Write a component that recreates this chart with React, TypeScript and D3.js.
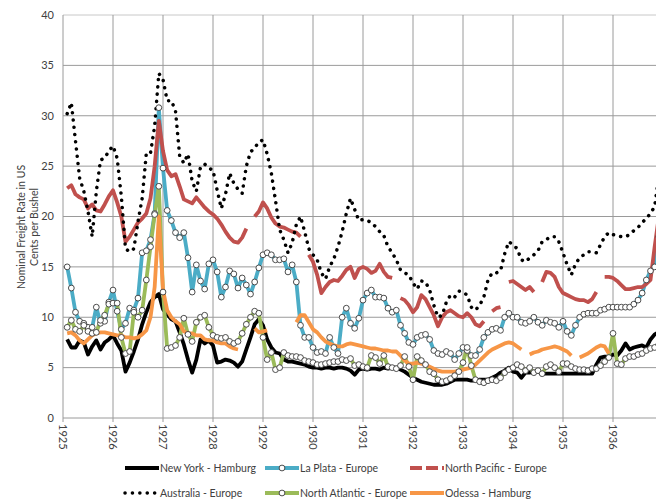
import React from 'react';
import * as d3 from 'd3';

// month index 0 = Jan 1925
const years = [1925, 1926, 1927, 1928, 1929, 1930, 1931, 1932, 1933, 1934, 1935, 1936];
const yTicks = [0, 5, 10, 15, 20, 25, 30, 35, 40];

const newYork: (number | null)[] = [null, 7.8, 7.0, 7.0, 7.7, 7.5, 6.3, 7.1, 7.7, 6.8, 7.5, 7.8,
  8.2, 7.4, 6.7, 4.6, 5.5, 6.6, 7.8, 9.3, 10.5, 11.5, 12, 12.3,
  10.8, 10.3, 9.8, 9.6, 8.5, 7.3, 5.8, 4.5, 5.8, 7.8, 7.4, 7.7,
  7.2, 5.5, 5.6, 5.8, 5.7, 5.5, 5.1, 5.6, 6.8, 8, 9.3, 9.8,
  9.2, 7.8, 7.0, 6.5, 6.4, 5.8, 5.6, 5.6, 5.5, 5.4, 5.3, 5.1,
  5.0, 5.0, 4.9, 5.0, 5.0, 4.9, 5.0, 5.0, 4.9, 4.7, 4.3, 4.8,
  4.9, 4.8, 4.9, 4.9, 4.8, 5.0, 4.9, 5.0, 5.0, 4.8, 4.6, 4.3,
  4.0, 3.8, 3.6, 3.5, 3.4, 3.3, 3.3, 3.3, 3.4, 3.6, 3.8, 3.8,
  3.8, 3.8, 3.7, 3.7, 3.8, 3.8, 3.8, 4.0, 4.2, 4.5, 4.7, 5.0,
  4.6, 4.5, 4.0, 4.5, 4.5, 4.6, 4.6, 4.4, 4.4, 4.4, 4.4, 4.4,
  4.4, 4.4, 4.4, 4.4, 4.4, 4.4, 4.4, 4.4, 5.3, 6.0, 6.1, 6.1,
  6.3, 6.2, 6.7, 7.4, 6.8, 7.0, 7.1, 7.2, 7.0, 7.8, 8.3, 8.5];

const laPlata: (number | null)[] = [null, 15, 12.9, 10.5, 9.6, 9.4, 9.0, 9.0, 11.0, 9.4, 9.6, 11.5,
  12.7, 10.6, 8.8, 9.4, 10.9, 10.7, 11.9, 16.4, 16.6, 17.7, 20.3, 30.8,
  24.8, 20.6, 19.6, 18.4, 17.9, 18.4, 15.9, 12.5, 15.2, 13.6, 12.8, 15.3,
  15.7, 14.5, 12.0, 13.0, 14.6, 14.3, 12.9, 13.9, 13.2, 12.3, 13.5, 14.9,
  16.2, 16.4, 16.2, 15.7, 15.7, 15.8, 14.5, 15.2, 13.5, 9.2, 8.0, 8.0,
  7.0, 6.5, 6.6, 6.4, 8.0, 7.0, 6.4, 10.0, 10.9, 9.4, 8.9, 9.9,
  11.7, 12.4, 12.7, 12.0, 12.0, 11.9, 10.9, 10.5, 10.7, 9.2, 8.4, 7.5,
  7.3, 8.0, 8.2, 8.3, 7.8, 6.7, 6.4, 6.3, 6.6, 6.4, 5.8, 6.4,
  7.0, 6.7, 6.2, 6.2, 6.8, 8.0, 8.5, 8.8, 8.9, 8.7, 10.0, 10.4,
  10.0, 10.0, 9.5, 9.4, 9.6, 10.0, 9.5, 9.2, 9.7, 9.5, 9.4, 9.0,
  9.6, 8.6, 8.2, 9.2, 10.0, 10.3, 10.4, 10.4, 10.4, 10.7, 10.8, 11.0,
  11.0, 11.0, 11.0, 11.0, 11.0, 11.3, 11.7, 12.4, 13.7, 14.6, 15.0, 18.0];

const northPacific: (number | null)[] = [null, 22.8, 23.1, 22.2, 21.9, 21.7, 20.8, 21.2, 20.6, 20.5, 21.2, 22.0,
  22.6, 21.4, 20.0, 17.5, 18.0, 18.7, 19.4, 19.8, 20.3, 21.8, 25.0, 29.5,
  26.5, 24.6, 24.0, 24.2, 23.0, 21.7, 21.5, 21.3, 21.9, 21.4, 20.9, 20.5,
  20.2, 19.8, 19.2, 18.5, 17.9, 17.5, 17.4, 17.9, 18.8, null, 20.0, 20.5,
  21.4, 20.8, 19.9, 19.3, 19.0, 18.9, 18.7, 18.5, 18.4, 18.0, null, 16.2,
  15.5, 14.2, 12.4, 13.0, 13.5, 13.7, 13.6, 14.1, 14.7, 15.0, 13.9, 14.8,
  15.0, 14.8, 14.4, 14.6, 15.3, 14.5, 14.0, 13.9, null, 11.9, 11.7, 11.2,
  10.5, 11.0, 12.2, 11.8, 11.0, 10.2, 9.1, 10.0, 10.5, 10.7, 10.4, 10.1,
  10.0, 10.4, 10.0, 9.3, 9.1, 9.6, null, 10.6, 10.9, 11.0, null, 13.5,
  13.6, 13.3, 13.0, 12.7, 13.0, 12.5, null, 13.5, 14.5, 14.4, 14.0, 13.0,
  12.4, 12.2, 12.0, 11.8, 11.7, 11.7, 11.5, 11.8, 12.5, null, 14.0, 14.0,
  13.9, 13.6, 13.2, 12.8, 12.8, 12.9, 13.0, 13.0, 13.3, 13.7, 17.0, 20.0];

const australia: (number | null)[] = [null, 30.2, 31.3, 27.5, 23.8, 22.5, 20.5, 18.0, 22.5, 25.6, 25.8, 26.5,
  27.0, 25.8, 22.0, 16.8, 16.5, 16.8, 19.5, 21.8, 26.3, 26.3, 29.0, 34.2,
  33.6, 31.5, 31.5, 30.5, 26.0, 25.3, 26.2, 23.5, 22.5, 24.9, 25.2, 24.8,
  24.6, 22.6, 20.8, 22.2, 24.3, 23.3, 22.7, 22.3, 25.0, 26.4, 26.8, 27.4,
  27.6, 26.2, 24.3, 21.6, 18.7, 17.7, 16.4, 17.4, 19.2, 20.0, 18.5, 16.8,
  16.2, 15.7, 14.4, 13.8, 15.0, 15.8, 17.0, 18.5, 20.3, 21.8, 20.7, 19.6,
  19.7, 19.6, 19.4, 19.0, 18.5, 18.1, 17.0, 16.4, 15.7, 14.7, 14.4, 14.2,
  13.4, 12.8, 13.6, 13.5, 12.7, 11.2, 10.0, 10.2, 11.5, 12.2, 12.0, 12.6,
  12.5, 12.2, 11.0, 10.7, 11.2, 12.0, 13.7, 14.4, 14.4, 14.6, 16.3, 17.5,
  17.2, 16.8, 15.7, 15.5, 15.9, 16.2, 16.6, 17.5, 17.7, 18.0, 18.0, 17.5,
  16.4, 15.2, 14.2, 15.3, 15.9, 16.2, 16.5, 16.5, 16.4, 17.2, 18.0, 18.4,
  18.2, 18.1, 18.0, 18.0, 18.2, 18.6, 18.9, 19.4, 19.8, 20.3, 21.0, 24.0];

const northAtlantic: (number | null)[] = [null, 9.0, 9.7, 8.8, 8.6, 9.2, 8.6, 8.4, 8.5, 9.7, 10.2, 11.3,
  11.4, 11.4, 8.0, 6.4, 6.6, 10.5, 10.0, 10.7, 13.7, 17.0, 20.2, 23.0,
  12.5, 6.9, 7.0, 7.2, 8.0, 9.9, 8.3, 7.6, 9.5, 10.0, 10.2, 9.0,
  8.2, 8.0, 7.9, 8.0, 7.6, 7.4, 7.6, 8.4, 9.3, 10.0, 10.6, 10.4,
  8.0, 5.8, 6.5, 4.8, 5.0, 6.5, 6.2, 6.1, 6.1, 6.0, 5.7, 5.6,
  5.5, 5.3, 5.3, 5.4, 5.5, 5.6, 5.6, 5.8, 5.7, 5.9, 5.2, 5.3,
  5.1, 5.0, 6.2, 6.0, 5.4, 6.2, 5.1, 5.0, 4.9, 5.2, 6.1, 5.1,
  3.8, 6.1, 5.7, 5.3, 4.6, 4.4, 3.8, 3.6, 3.7, 3.9, 4.2, 4.6,
  5.5, 7.0, 5.2, 3.8, 3.6, 3.5, 3.7, 3.8, 3.7, 4.0, 4.5, 4.8,
  5.0, 5.3, 5.1, 4.7, 5.0, 4.5, 4.7, 4.4, 5.1, 5.3, 5.0, 4.6,
  5.4, 5.4, 5.1, 4.9, 4.8, 4.8, 4.7, 4.9, 4.9, 5.2, 5.6, 6.0,
  8.4, 5.4, 5.3, 5.9, 6.1, 6.1, 6.3, 6.4, 6.7, 6.9, 7.0, 7.3];

const odessa: (number | null)[] = [null, 8.4, 8.5, 8.2, 7.7, 7.4, 7.8, 8.2, 8.4, 8.5, 8.5, 8.4,
  8.3, 8.2, 8.2, 8.0, 8.0, 7.9, 8.0, 8.3, 8.7, 10.0, 13.0, 20.0,
  12.7, 10.7, 10.0, 9.6, 9.3, 8.6, 8.4, 8.4, 8.2, 8.2, 7.8, 7.7,
  7.7, 7.5, 7.4, 7.4, 7.1, 6.9, 6.8, null, null, null, 8.9, 8.5,
  8.6, 8.7, null, null, null, null, null, null, 9.5, 10.2, 10.2, 9.5,
  8.8, 8.5, 8.0, 7.6, 7.4, 7.2, 7.1, 7.1, 7.3, 7.4, 7.3, 7.2,
  7.1, 7.0, 6.9, 6.9, 6.8, 6.7, 6.7, 6.6, 6.6, 6.2, 5.7, 5.4,
  5.4, 5.5, 5.4, 5.3, 5.1, 4.9, 4.7, 4.6, 4.6, 4.6, 4.6, 4.7,
  4.8, 4.9, 5.0, 5.3, 5.7, 6.1, 6.5, 6.8, 7.0, 7.2, 7.4, 7.5,
  7.4, 7.1, 6.8, null, 6.3, 6.5, 6.6, 6.8, 6.9, 7.0, 7.1, 7.0,
  6.8, 6.6, 6.2, null, 6.0, 6.2, 6.4, 6.7, 7.0, 7.2, 7.1, 6.4,
  null, null, null, null, null, null, null, null, null, null, null, null];

type Series = { name: string; values: (number | null)[]; color: string; style: 'solid' | 'dash' | 'dot'; markers: boolean };

const series: Series[] = [
  { name: 'New York - Hamburg', values: newYork, color: '#000000', style: 'solid', markers: false },
  { name: 'La Plata - Europe', values: laPlata, color: '#4BACC6', style: 'solid', markers: true },
  { name: 'North Pacific - Europe', values: northPacific, color: '#C0504D', style: 'dash', markers: false },
  { name: 'Australia - Europe', values: australia, color: '#000000', style: 'dot', markers: false },
  { name: 'North Atlantic - Europe', values: northAtlantic, color: '#9BBB59', style: 'solid', markers: true },
  { name: 'Odessa - Hamburg', values: odessa, color: '#F79646', style: 'solid', markers: false },
];

const FONT = "Lato, 'Liberation Sans', Arial, sans-serif";

export default function App() {
  const W = 656, H = 501;
  const left = 63, top = 15, bottom = 418;
  const x = d3.scaleLinear().domain([0, 144]).range([left, left + 600]);
  const y = d3.scaleLinear().domain([0, 40]).range([bottom, top]);
  const lineGen = d3.line<number | null>()
    .defined(v => v != null)
    .x((_, i) => x(i))
    .y(v => y(v as number));

  const legendCols = [125, 265, 410];
  const legendRows = [468, 493];
  const LW = 3.8;
  const MR = 2.9;

  return (
    <svg width={W} height={H} style={{ position: 'absolute', left: 0, top: 0, background: '#fff' }} fontFamily={FONT}>
      <defs>
        <clipPath id="plotclip"><rect x={left} y={0} width={W - left} height={bottom + 2} /></clipPath>
      </defs>
      {yTicks.map(t => (
        <line key={'h' + t} x1={left} x2={W} y1={y(t)} y2={y(t)} stroke={t === 40 ? '#c8c8c8' : '#9a9a9a'} strokeWidth={1} />
      ))}
      {years.map((yr, k) => (
        <line key={'v' + yr} x1={x(k * 12)} x2={x(k * 12)} y1={top} y2={bottom + 4} stroke="#9a9a9a" strokeWidth={1} />
      ))}
      {yTicks.map(t => (
        <text key={'yl' + t} x={54} y={y(t)} dy="0.35em" textAnchor="end" fontSize={11} fill="#404040">{t}</text>
      ))}
      {years.map((yr, k) => (
        <text key={'xl' + yr} transform={`translate(${x(k * 12)},${bottom + 6}) rotate(90)`} dy="0.35em" textAnchor="start" fontSize={11} fill="#404040">{yr}</text>
      ))}
      <g transform={`translate(21,227) rotate(-90)`}>
        <text textAnchor="middle" fontSize={10.5} fill="#404040" dy="0.35em">Nominal Freight Rate in US</text>
      </g>
      <g transform={`translate(34,227) rotate(-90)`}>
        <text textAnchor="middle" fontSize={10.5} fill="#404040" dy="0.35em">Cents per Bushel</text>
      </g>
      <g clipPath="url(#plotclip)">
        {series.map(s => (
          <path key={s.name} d={lineGen(s.values) || ''} fill="none" stroke={s.color}
            strokeWidth={s.style === 'dot' ? 3.5 : LW}
            strokeDasharray={s.style === 'dot' ? '0.1 7.2' : undefined}
            strokeLinecap={s.style === 'dot' ? 'round' : 'butt'}
            strokeLinejoin="round" />
        ))}
        {series.filter(s => s.markers).map(s => (
          <g key={s.name + 'm'}>
            {s.values.map((v, i) => v == null ? null : (
              <circle key={i} cx={x(i)} cy={y(v)} r={MR} fill="#fff" stroke="#3a3a3a" strokeWidth={0.9} />
            ))}
          </g>
        ))}
      </g>
      {series.map((s, i) => {
        const col = i % 3, row = Math.floor(i / 3);
        const lx = legendCols[col], ly = legendRows[row];
        return (
          <g key={'lg' + s.name}>
            <line x1={lx} x2={lx + 34} y1={ly} y2={ly} stroke={s.color}
              strokeWidth={s.style === 'dot' ? 3.5 : LW}
              strokeDasharray={s.style === 'dot' ? '0.1 7.3' : s.style === 'dash' ? '12 4' : undefined}
              strokeLinecap={s.style === 'dot' ? 'round' : 'butt'} />
            {s.markers && <circle cx={lx + 17} cy={ly} r={MR} fill="#fff" stroke="#3a3a3a" strokeWidth={0.9} />}
            <text x={lx + 35} y={ly} dy="0.35em" fontSize={10.5} fill="#404040">{s.name}</text>
          </g>
        );
      })}
    </svg>
  );
}
